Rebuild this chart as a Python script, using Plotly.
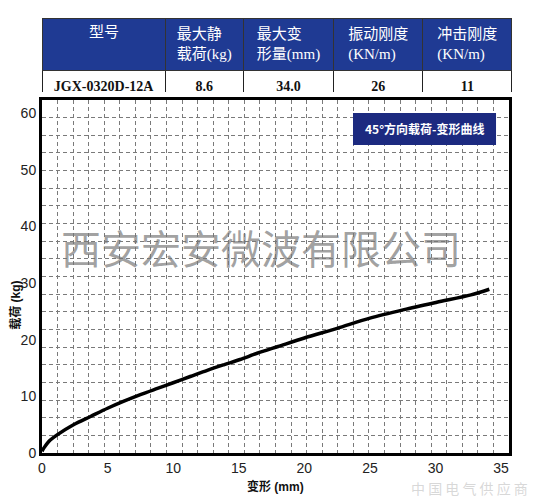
import plotly.graph_objects as go

# spec table
table_header = ["型号", "最大静<br>载荷(kg)", "最大变<br>形量(mm)", "振动刚度<br>(KN/m)", "冲击刚度<br>(KN/m)"]
table_row = ["JGX-0320D-12A", "8.6", "34.0", "26", "11"]

# load-deformation curve
deform_mm = [0, 0.15, 0.5, 1.15, 2.4, 3.7, 5.0, 6.2, 7.5, 8.8, 10.0, 11.3, 12.6, 13.9,
             15.1, 16.4, 18.0, 20.0, 22.5, 25.0, 27.6, 30.1, 32.7, 34.1]
load_kg = [0.3, 0.9, 2.0, 3.2, 5.0, 6.45, 7.9, 9.1, 10.3, 11.4, 12.4, 13.5, 14.6, 15.6,
           16.5, 17.6, 18.8, 20.3, 22.0, 23.8, 25.3, 26.6, 27.9, 28.9]

x_max = 35.6
y_max = 62.3
grid_cols = 30
grid_rows = 20

navy = "#1f3a93"
sans = "Liberation Sans, Arial, Noto Sans CJK SC"
serif = "Liberation Serif, Times New Roman, Noto Sans CJK SC"

fig = go.Figure()

fig.add_trace(go.Table(
    domain=dict(x=[0.002, 1.0], y=[0.8276, 1.0]),
    columnwidth=[122, 78, 90, 89, 89],
    header=dict(
        values=table_header,
        fill_color=navy,
        line=dict(color="#333333", width=1),
        font=dict(family=serif, size=15, color="white"),
        align="center",
        height=47,
    ),
    cells=dict(
        values=[["<b>" + v + "</b>"] for v in table_row],
        fill_color="white",
        line=dict(color="#222222", width=1),
        font=dict(family=serif, size=14, color="#111111"),
        align="center",
        height=28,
    ),
))

# invisible trace so the grid axes get drawn
fig.add_trace(go.Scatter(x=[None], y=[None], xaxis="x2", yaxis="y2",
                         showlegend=False, hoverinfo="skip"))

fig.add_trace(go.Scatter(
    x=deform_mm,
    y=load_kg,
    mode="lines",
    line=dict(color="black", width=3.5, shape="spline", smoothing=0.8),
    showlegend=False,
))

axis_font = dict(family=sans, size=14, color="#222222")

fig.update_layout(
    width=537,
    height=493,
    margin=dict(l=34, r=33, t=10, b=48),
    paper_bgcolor="white",
    plot_bgcolor="white",
    font=dict(family=sans),
    xaxis=dict(range=[0, x_max], domain=[0, 0.9936], dtick=5, tick0=0,
               showgrid=False, zeroline=False, showline=True, linewidth=3,
               linecolor="black", mirror=True, ticks="", tickfont=axis_font,
               automargin=False),
    yaxis=dict(range=[0, y_max], domain=[0, 0.8115], dtick=10, tick0=0,
               showgrid=False, zeroline=False, showline=True, linewidth=3,
               linecolor="black", mirror=True, ticks="", tickfont=axis_font,
               automargin=False),
    xaxis2=dict(range=[0, grid_cols], overlaying="x", dtick=1, showgrid=True,
                gridcolor="#7a7a7a", griddash="4px,3px", gridwidth=1,
                showticklabels=False, zeroline=False, showline=False,
                anchor="y2", side="top", automargin=False),
    yaxis2=dict(range=[0, grid_rows], overlaying="y", dtick=1, showgrid=True,
                gridcolor="#7a7a7a", griddash="4px,3px", gridwidth=1,
                showticklabels=False, zeroline=False, showline=False,
                anchor="x2", side="right", automargin=False),
    shapes=[dict(type="rect", xref="paper", yref="paper",
                 x0=0.6617, x1=0.966, y0=0.708, y1=0.7816,
                 fillcolor="#1c2a80", line=dict(width=0))],
    annotations=[
        dict(text="<b>45°方向载荷-变形曲线</b>", xref="paper", yref="paper",
             x=0.814, y=0.745, xanchor="center", yanchor="middle", showarrow=False,
             font=dict(family="Noto Sans CJK SC", size=12, color="white")),
        dict(text="西安宏安微波有限公司", xref="paper", yref="paper",
             x=0.467, y=0.4736, xanchor="center", yanchor="middle", showarrow=False,
             font=dict(family="Noto Sans CJK SC", size=40, color="rgba(120,120,120,0.7)")),
        dict(text="中 国 电 气 供 应 商", xref="paper", yref="paper",
             x=0.91, y=-0.08, xanchor="center", yanchor="middle", showarrow=False,
             font=dict(family="Noto Sans CJK SC", size=14, color="rgba(190,190,190,0.6)")),
        dict(text="<b>变形 (mm)</b>", xref="paper", yref="paper",
             x=0.496, y=-0.0759, xanchor="center", yanchor="middle", showarrow=False,
             font=dict(family=sans, size=12, color="#111111")),
        dict(text="<b>载荷 (kg)</b>", xref="paper", yref="paper",
             x=-0.058, y=0.34, xanchor="center", yanchor="middle", showarrow=False,
             textangle=-90,
             font=dict(family=sans, size=12, color="#111111")),
    ],
)

fig.write_html("out.html")
